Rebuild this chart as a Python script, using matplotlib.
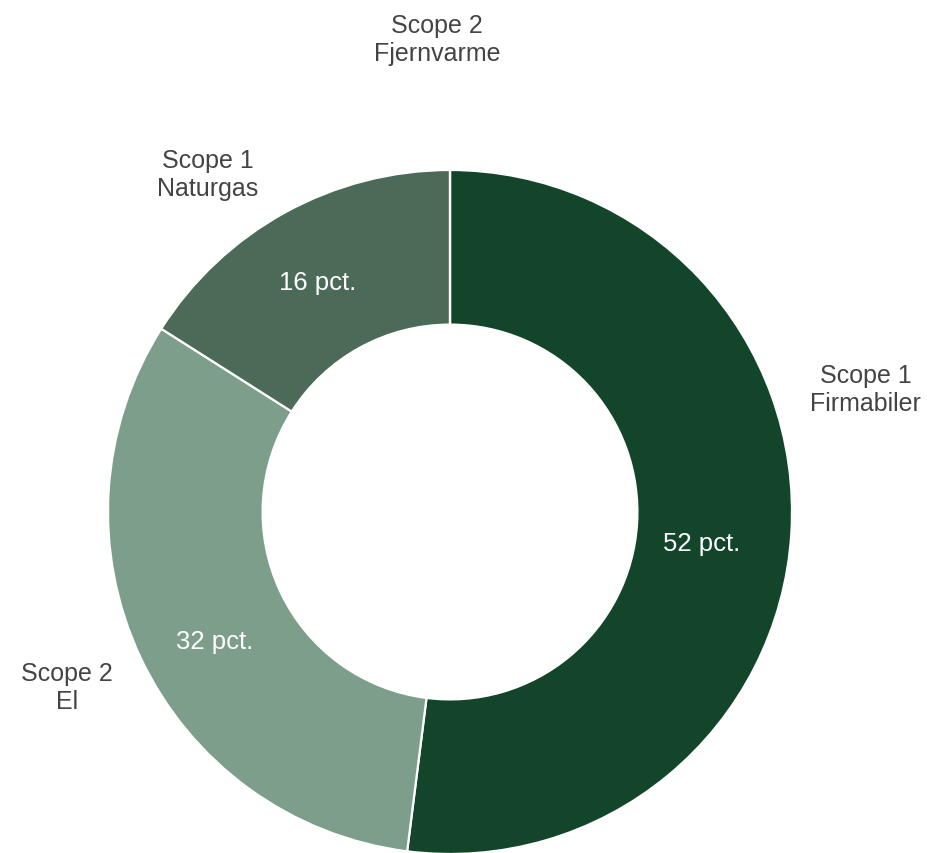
import numpy as np
import matplotlib
matplotlib.use("Agg")
import matplotlib.pyplot as plt

plt.rcParams["font.family"] = ["Liberation Sans", "DejaVu Sans"]

# Emission shares by source
categories = ["Scope 1\nFirmabiler", "Scope 2\nEl", "Scope 1\nNaturgas", "Scope 2\nFjernvarme"]
shares = [52, 32, 16, 0]
colors = ["#12452a", "#7d9e8b", "#4b6b58", "#2f5a40"]

# label anchors (data units, donut radius = 1)
label_xy = [(1.216, 0.36), (-1.12, -0.512), (-0.708, 0.988), (-0.038, 1.383)]
pct_xy = [(0.737, -0.091), (-0.687, -0.377), (-0.386, 0.673), None]

fig = plt.figure(figsize=(9.28, 8.54), dpi=100)
ax = fig.add_axes([0, 0, 1, 1])

wedges, _ = ax.pie(shares, colors=colors, startangle=90, counterclock=False,
                   radius=1.0, center=(0, 0),
                   wedgeprops=dict(width=0.452, edgecolor="white", linewidth=1.6))

ax.set_xlim(-450 / 342, (928 - 450) / 342)
ax.set_ylim(-(854 - 513) / 342, 513 / 342)
ax.set_aspect("auto")
ax.axis("off")

# percentage labels inside the ring
for v, pos in zip(shares, pct_xy):
    if v <= 0 or pos is None:
        continue
    ax.text(pos[0], pos[1], f"{v} pct.", ha="center", va="center",
            color="white", fontsize=18.5)

for name, (x, y) in zip(categories, label_xy):
    ax.text(x, y, name, ha="center", va="center", color="#444444",
            fontsize=18, linespacing=1.25)

fig.savefig("out.png", dpi=100, facecolor="white")
